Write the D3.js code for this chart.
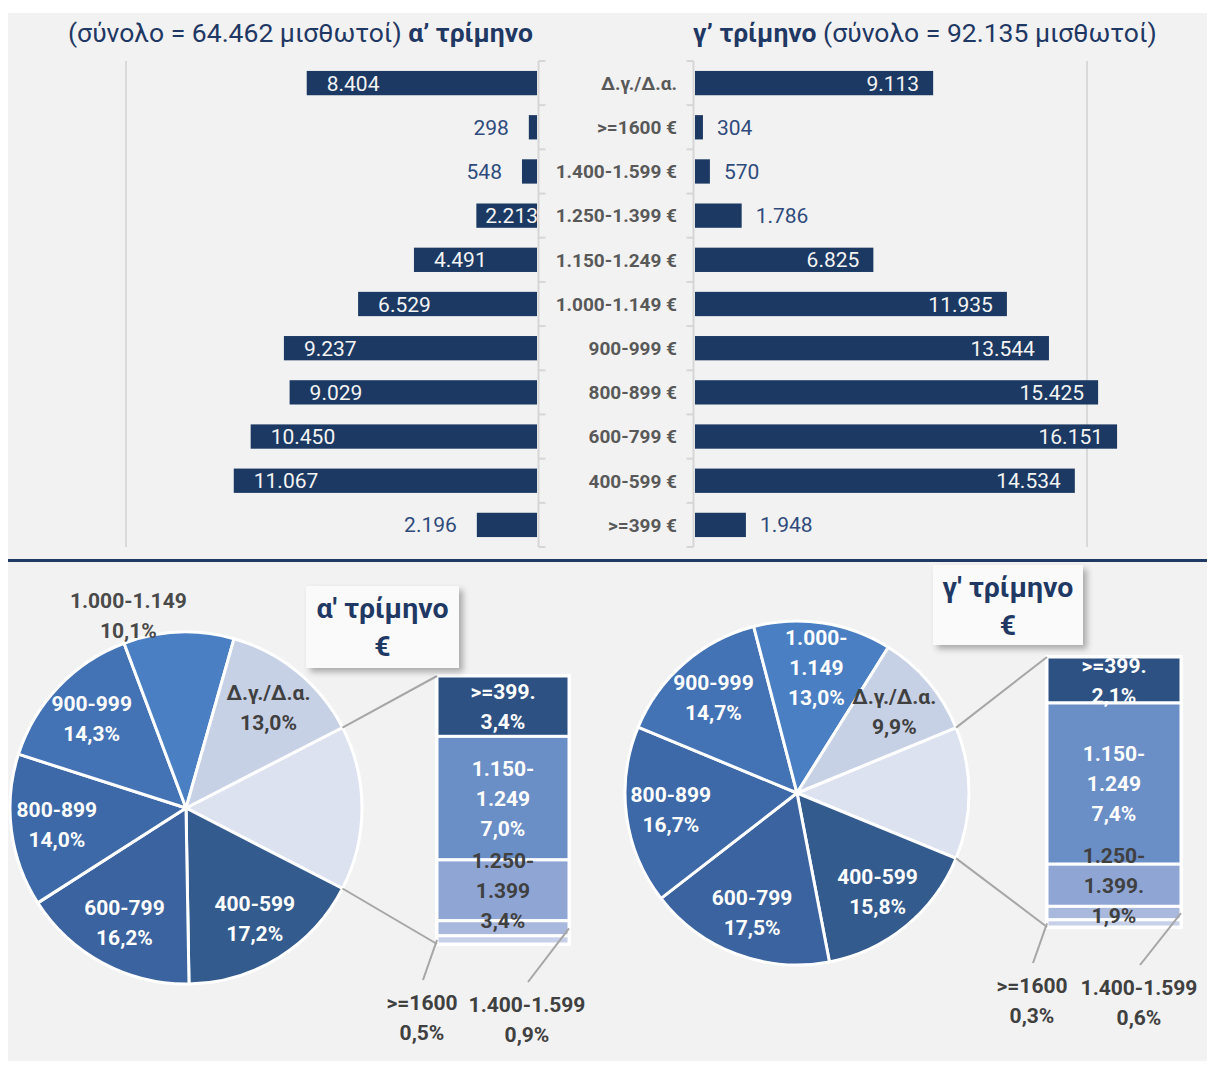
<!DOCTYPE html>
<html>
<head>
<meta charset="utf-8">
<script src="https://cdn.jsdelivr.net/npm/d3@7"></script>
<style>
  body { margin: 0; background: #ffffff; }
  svg { display: block; }
  text { font-family: Roboto, "Noto Sans", sans-serif; }
</style>
</head>
<body>
<svg id="chart" width="1207" height="1070"></svg>
<script>
// ---- data -------------------------------------------------------------
const categories = ["Δ.γ./Δ.α.", ">=1600", "1.400-1.599", "1.250-1.399", "1.150-1.249",
  "1.000-1.149", "900-999", "800-899", "600-799", "400-599", ">=399"];
const q1Values = [8404, 298, 548, 2213, 4491, 6529, 9237, 9029, 10450, 11067, 2196];
const q3Values = [9113, 304, 570, 1786, 6825, 11935, 13544, 15425, 16151, 14534, 1948];
const quarterNames = ["α’ τρίμηνο", "γ’ τρίμηνο"];
const axisMax = 15000;
// slices grouped into the secondary bar, top to bottom
const stackCategories = [">=399", "1.150-1.249", "1.250-1.399", "1.400-1.599", ">=1600"];
// main pie slices, clockwise after the grouped slice
const pieCategories = ["400-599", "600-799", "800-899", "900-999", "1.000-1.149", "Δ.γ./Δ.α."];

// ---- styling -----------------------------------------------------------
const navy = "#1f3864";
const barColor = "#1b3962";
const sliceColors = {
  other: "#dce2ef", "400-599": "#345b8e", "600-799": "#3a63a0", "800-899": "#3d69a8",
  "900-999": "#4372b5", "1.000-1.149": "#4a7fc3", "Δ.γ./Δ.α.": "#c7d1e5"
};
const stackColors = {
  ">=399": "#2e5184", "1.150-1.249": "#6a8ec6", "1.250-1.399": "#8fa6d4",
  "1.400-1.599": "#a9b9dd", ">=1600": "#c6d0e8"
};
const darkLabels = new Set(["Δ.γ./Δ.α.", "1.250-1.399", "1.400-1.599", ">=1600"]);

const locale = d3.formatLocale({ decimal: ",", thousands: ".", grouping: [3], currency: ["", "€"] });
const fmtInt = locale.format(",d");
const fmtPct = locale.format(".1%");

const svg = d3.select("#chart");

// panel background and divider
svg.append("rect").attr("x", 8).attr("y", 13).attr("width", 1199).attr("height", 1048).attr("fill", "#f2f2f2");
svg.append("rect").attr("x", 8).attr("y", 559).attr("width", 1199).attr("height", 3).attr("fill", navy);

// ---- back-to-back bar chart --------------------------------------------
const y = d3.scaleBand().domain(categories).range([61, 547]).paddingInner(0.45).paddingOuter(0.225);

const sides = [
  { values: q1Values, x: d3.scaleLinear().domain([0, axisMax]).range([537, 126]), dir: -1,
    inside: [true, false, false, true, true, true, true, true, true, true, false] },
  { values: q3Values, x: d3.scaleLinear().domain([0, axisMax]).range([695, 1087]), dir: 1,
    inside: [true, false, false, false, true, true, true, true, true, true, false] }
];

sides.forEach(side => {
  const g = svg.append("g");
  const x0 = side.x(0);
  // gridline at axis maximum
  g.append("line")
    .attr("x1", side.x(axisMax)).attr("x2", side.x(axisMax))
    .attr("y1", 61).attr("y2", 547)
    .attr("stroke", "#d9d9d9").attr("stroke-width", 2);
  // category axis with ticks between categories
  const ax = x0 - side.dir * 1.5;
  g.append("line").attr("x1", ax).attr("x2", ax).attr("y1", 61).attr("y2", 547)
    .attr("stroke", "#d6d6d6").attr("stroke-width", 2);
  d3.range(categories.length + 1).forEach(i => {
    const ty = 61 + i * y.step();
    g.append("line").attr("x1", ax).attr("x2", ax - side.dir * 7).attr("y1", ty).attr("y2", ty)
      .attr("stroke", "#d6d6d6").attr("stroke-width", 2);
  });
  // bars
  g.selectAll("rect.bar").data(side.values).join("rect")
    .attr("class", "bar")
    .attr("x", d => Math.min(x0, side.x(d)))
    .attr("width", d => Math.abs(side.x(d) - x0))
    .attr("y", (d, i) => y(categories[i]))
    .attr("height", y.bandwidth())
    .attr("fill", barColor);
  // value labels
  g.selectAll("text.val").data(side.values).join("text")
    .attr("class", "val")
    .attr("font-size", 21)
    .attr("dy", "0.36em")
    .attr("y", (d, i) => y(categories[i]) + y.bandwidth() / 2)
    .attr("x", (d, i) => {
      const end = side.x(d);
      if (side.dir < 0) return side.inside[i] ? end + 20 : end - 20;
      return side.inside[i] ? end - 14 : end + 14;
    })
    .attr("text-anchor", (d, i) => {
      if (side.dir < 0) return side.inside[i] ? "start" : "end";
      return side.inside[i] ? "end" : "start";
    })
    .attr("fill", (d, i) => side.inside[i] ? "#f4f4f4" : "#2f4b7c")
    .text(d => fmtInt(d))
    .each(function (d, i) {
      // a label that would run past the bar is pulled back to its base
      if (side.dir < 0 && side.inside[i]) {
        const w = this.getComputedTextLength();
        if (side.x(d) + 20 + w > x0) d3.select(this).attr("x", x0 + 1 - w);
      }
    });
});

// category labels in the middle
svg.append("g").selectAll("text").data(categories).join("text")
  .attr("x", 677)
  .attr("y", d => y(d) + y.bandwidth() / 2)
  .attr("dy", "0.36em")
  .attr("text-anchor", "end")
  .attr("font-size", 19)
  .attr("font-weight", "bold")
  .attr("fill", "#595959")
  .text(d => d === "Δ.γ./Δ.α." ? d : d + " €");

// titles
const totals = [d3.sum(q1Values), d3.sum(q3Values)];
const t1 = svg.append("text").attr("x", 533).attr("y", 42).attr("text-anchor", "end")
  .attr("font-size", 26.5).attr("fill", navy);
t1.append("tspan").text(`(σύνολο = ${fmtInt(totals[0])} μισθωτοί) `);
t1.append("tspan").attr("font-weight", "bold").text(quarterNames[0]);
const t2 = svg.append("text").attr("x", 693).attr("y", 42).attr("text-anchor", "start")
  .attr("font-size", 26.5).attr("fill", navy);
t2.append("tspan").attr("font-weight", "bold").text(quarterNames[1]);
t2.append("tspan").text(` (σύνολο = ${fmtInt(totals[1])} μισθωτοί)`);

// ---- bar-of-pie charts -------------------------------------------------
const defs = svg.append("defs");
const shadow = defs.append("filter").attr("id", "shadow").attr("x", "-20%").attr("y", "-20%")
  .attr("width", "150%").attr("height", "150%");
shadow.append("feDropShadow").attr("dx", 4).attr("dy", 4).attr("stdDeviation", 3)
  .attr("flood-color", "#000").attr("flood-opacity", 0.3);

const pieLayouts = [
  { values: q1Values, title: quarterNames[0].replace("’", "'"),
    cx: 186, cy: 808, r: 176,
    stack: { x: 437, y: 676, w: 132, h: 268 },
    box: { x: 306, y: 586, w: 153, h: 82 },
    wraps: { ">=399": [">=399."], "1.150-1.249": ["1.150-", "1.249"], "1.250-1.399": ["1.250-", "1.399"] },
    outside: { "1.000-1.149": { angle: -16.7, r: 1.14 } } },
  { values: q3Values, title: quarterNames[1].replace("’", "'"),
    cx: 797, cy: 793, r: 172,
    stack: { x: 1047, y: 657, w: 134, h: 270 },
    box: { x: 933, y: 565, w: 150, h: 80 },
    wraps: { ">=399": [">=399."], "1.150-1.249": ["1.150-", "1.249"], "1.250-1.399": ["1.250-", "1.399."],
             "1.000-1.149": ["1.000-", "1.149"] },
    outside: {} }
];
// labels of the thinnest stack segments sit below the stack
const belowLabels = { ">=1600": { edge: "left", dx: -15, dy: 58 }, "1.400-1.599": { edge: "right", dx: -42, dy: 60 } };
const lineGap = 30;

function drawLabel(g, lines, cx, cy, color) {
  const t = g.append("text").attr("text-anchor", "middle").attr("font-size", 21)
    .attr("font-weight", "bold").attr("fill", color);
  const top = cy - (lines.length - 1) * lineGap / 2;
  lines.forEach((s, i) => t.append("tspan").attr("x", cx).attr("y", top + i * lineGap).attr("dy", "0.36em").text(s));
}

pieLayouts.forEach(L => {
  const byCat = new Map(categories.map((c, i) => [c, L.values[i]]));
  const total = d3.sum(L.values);
  const otherSum = d3.sum(stackCategories, c => byCat.get(c));
  const otherAngle = otherSum / total * 2 * Math.PI;
  const start = Math.PI / 2 - otherAngle / 2;

  const slices = [{ key: "other", value: otherSum }].concat(pieCategories.map(c => ({ key: c, value: byCat.get(c) })));
  const arcs = d3.pie().sort(null).value(d => d.value).startAngle(start).endAngle(start + 2 * Math.PI)(slices);

  const g = svg.append("g");
  const pg = g.append("g").attr("transform", `translate(${L.cx},${L.cy})`);
  const arc = d3.arc().innerRadius(0).outerRadius(L.r);
  pg.selectAll("path").data(arcs).join("path")
    .attr("d", arc)
    .attr("fill", d => sliceColors[d.data.key])
    .attr("stroke", "#ffffff").attr("stroke-width", 3).attr("stroke-linejoin", "round");

  // stack of the grouped slices
  const S = L.stack;
  const ys = d3.scaleLinear().domain([0, otherSum]).range([S.y, S.y + S.h]);
  let acc = 0;
  const segs = stackCategories.map(c => { const s = { key: c, y0: acc, y1: acc + byCat.get(c) }; acc = s.y1; return s; });
  g.append("rect").attr("x", S.x - 2).attr("y", S.y - 2).attr("width", S.w + 4).attr("height", S.h + 4)
    .attr("fill", "#ffffff");
  g.selectAll("rect.seg").data(segs).join("rect")
    .attr("class", "seg")
    .attr("x", S.x).attr("width", S.w)
    .attr("y", d => ys(d.y0)).attr("height", d => ys(d.y1) - ys(d.y0))
    .attr("fill", d => stackColors[d.key])
    .attr("stroke", "#ffffff").attr("stroke-width", 3);

  // connector lines from the grouped slice to the stack
  const pt = a => [L.cx + L.r * Math.sin(a), L.cy - L.r * Math.cos(a)];
  const [ax, ay] = pt(start), [bx, by] = pt(start + otherAngle);
  g.append("line").attr("x1", ax).attr("y1", ay).attr("x2", S.x).attr("y2", S.y)
    .attr("stroke", "#a6a6a6").attr("stroke-width", 2);
  g.append("line").attr("x1", bx).attr("y1", by).attr("x2", S.x).attr("y2", S.y + S.h)
    .attr("stroke", "#a6a6a6").attr("stroke-width", 2);

  // slice labels
  const labelArc = d3.arc().innerRadius(L.r * 0.74).outerRadius(L.r * 0.74);
  arcs.filter(d => d.data.key !== "other").forEach(d => {
    const key = d.data.key;
    const lines = (L.wraps[key] || [key]).concat(fmtPct(d.data.value / total));
    let cx, cy, color;
    if (L.outside[key]) {
      const o = L.outside[key], a = o.angle * Math.PI / 180;
      cx = L.cx + L.r * o.r * Math.sin(a);
      cy = L.cy - L.r * o.r * Math.cos(a);
      color = "#4a4a4a";
    } else {
      const c = labelArc.centroid(d);
      cx = L.cx + c[0]; cy = L.cy + c[1];
      color = darkLabels.has(key) ? "#404040" : "#ffffff";
    }
    drawLabel(g, lines, cx, cy, color);
  });

  // stack labels
  segs.forEach(s => {
    const lines = (L.wraps[s.key] || [s.key]).concat(fmtPct(byCat.get(s.key) / total));
    const b = belowLabels[s.key];
    if (b) {
      const ex = b.edge === "left" ? S.x : S.x + S.w;
      const ey = (ys(s.y0) + ys(s.y1)) / 2;
      const lx = ex + b.dx, ly = S.y + S.h + b.dy;
      g.append("line").attr("x1", ex).attr("y1", ey).attr("x2", lx + 1).attr("y2", ly - 22)
        .attr("stroke", "#a6a6a6").attr("stroke-width", 2);
      drawLabel(g, lines, lx, ly + lineGap / 2, "#404040");
    } else {
      drawLabel(g, lines, S.x + S.w / 2, (ys(s.y0) + ys(s.y1)) / 2,
        darkLabels.has(s.key) ? "#404040" : "#ffffff");
    }
  });

  // quarter title box
  const B = L.box;
  g.append("rect").attr("x", B.x).attr("y", B.y).attr("width", B.w).attr("height", B.h)
    .attr("fill", "#fafafa").attr("filter", "url(#shadow)");
  const bt = g.append("text").attr("text-anchor", "middle").attr("font-size", 28.5)
    .attr("font-weight", "bold").attr("fill", navy);
  bt.append("tspan").attr("x", B.x + B.w / 2).attr("y", B.y + 22).attr("dy", "0.36em").text(L.title);
  bt.append("tspan").attr("x", B.x + B.w / 2).attr("y", B.y + 60).attr("dy", "0.36em").text("€");
});
</script>
</body>
</html>
